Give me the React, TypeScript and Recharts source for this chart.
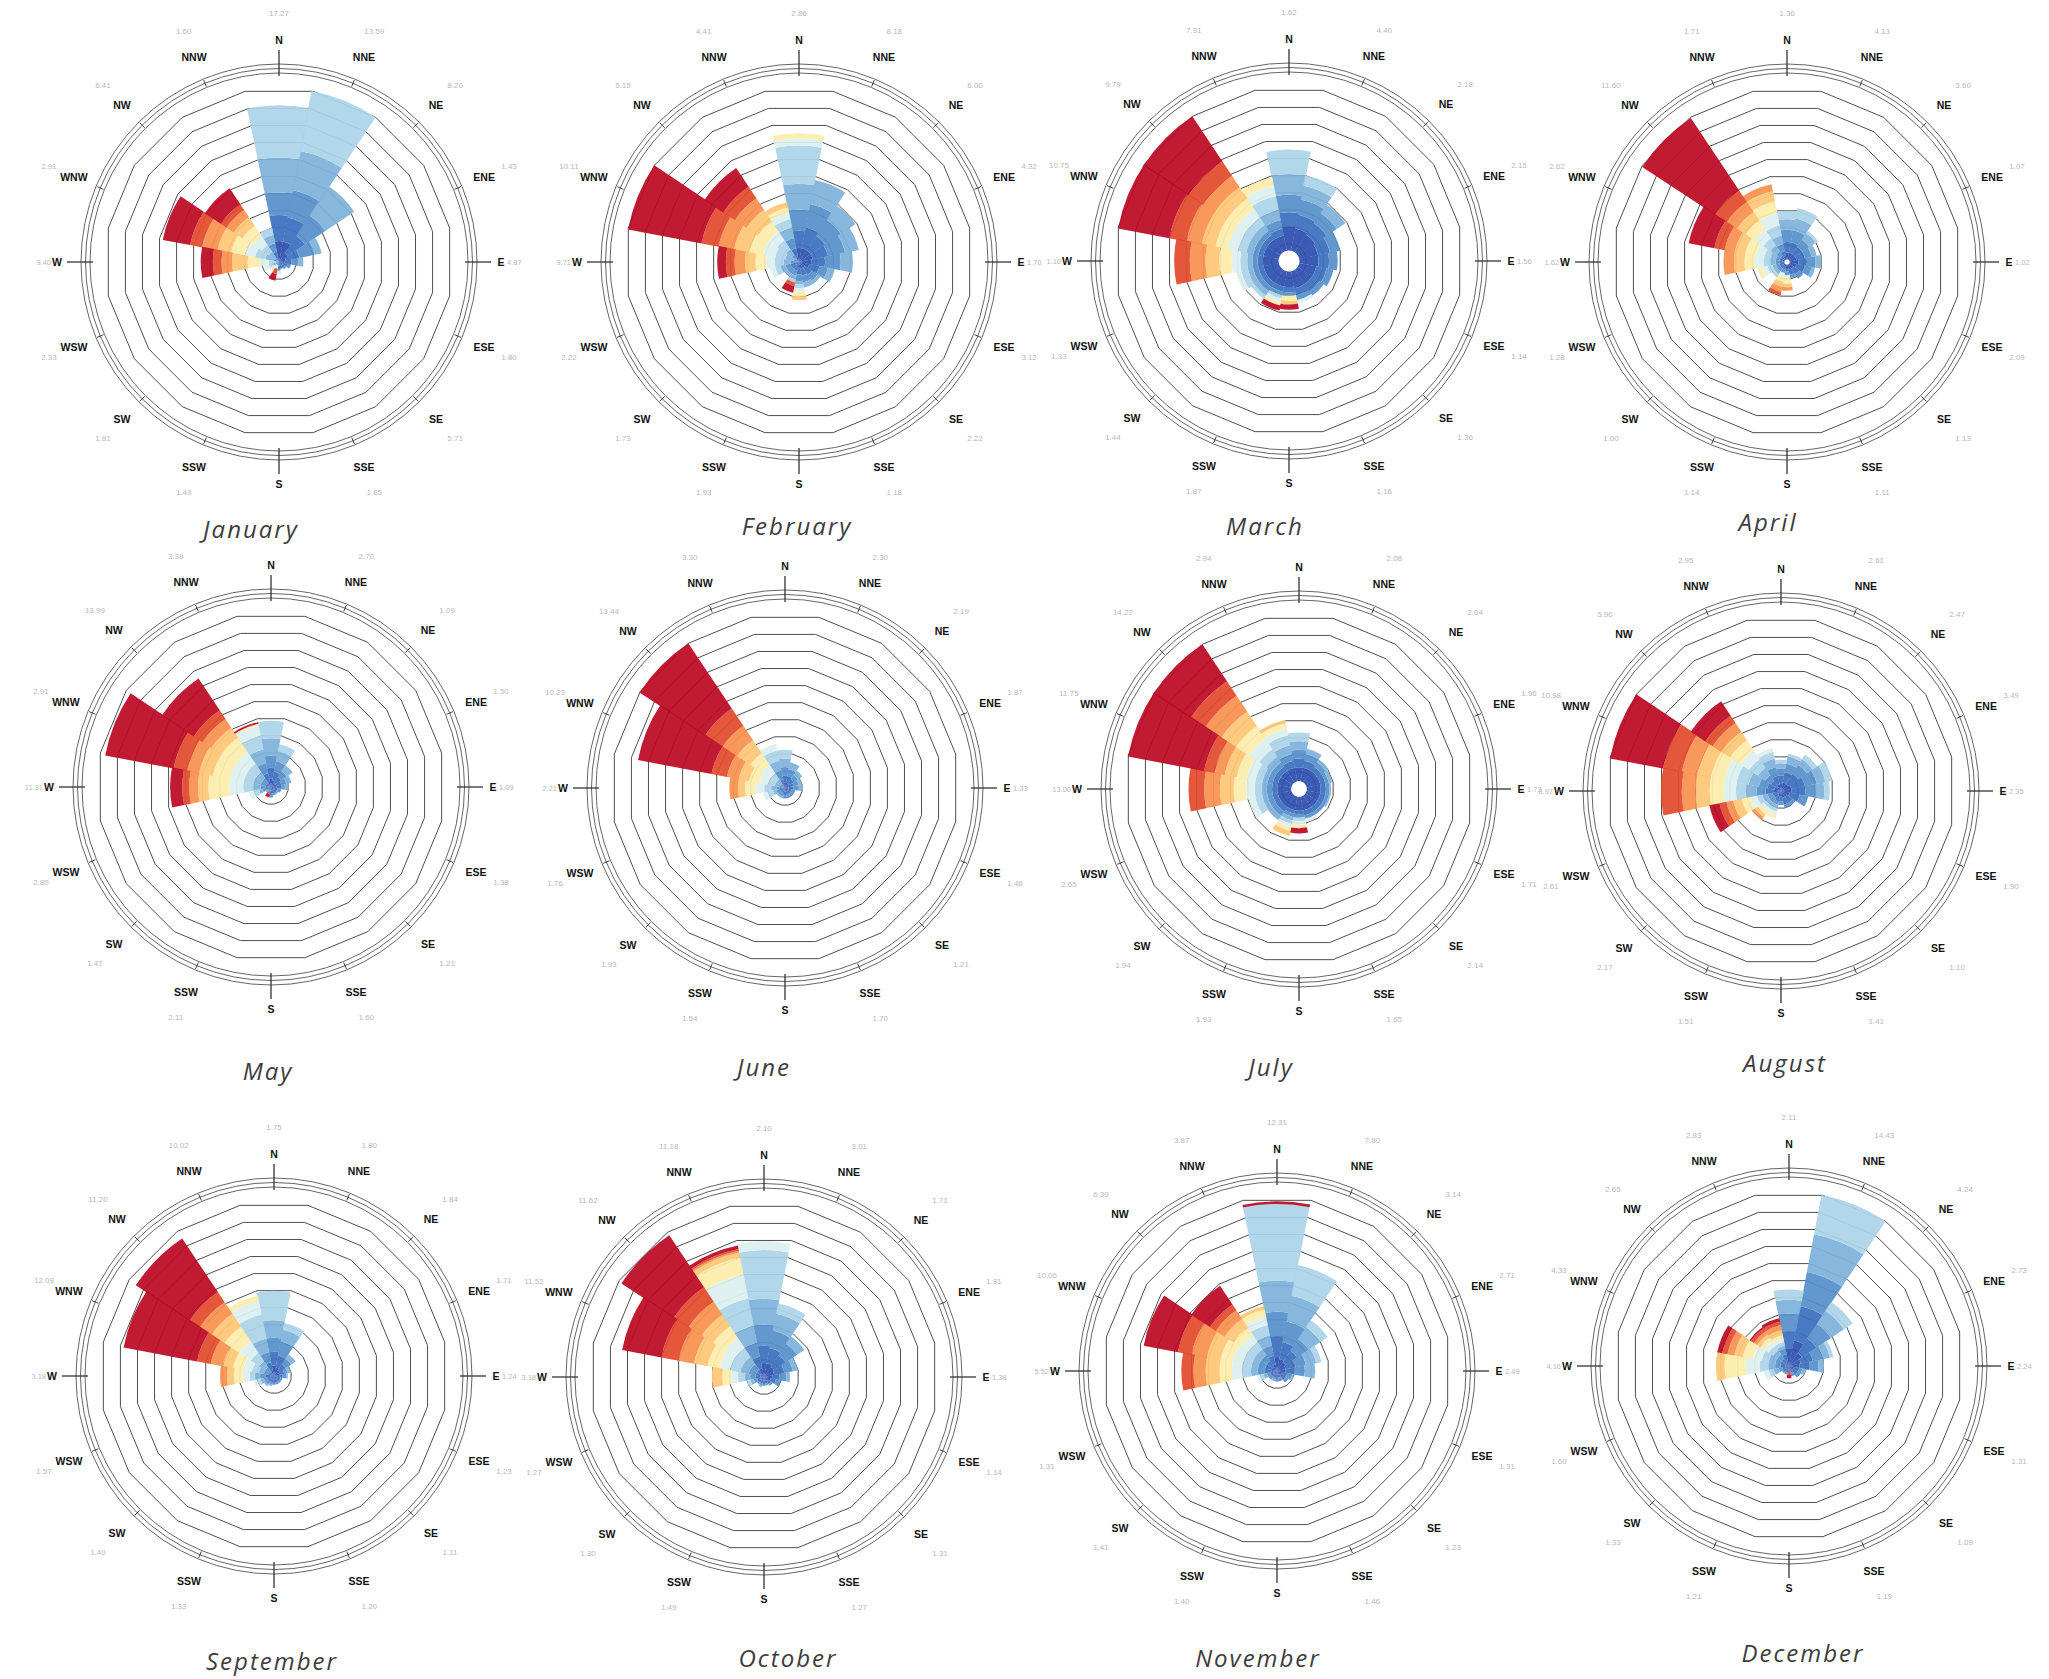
import React from 'react';
import { RadialBarChart, RadialBar, PolarGrid, PolarAngleAxis, PolarRadiusAxis } from 'recharts';

// 16 compass sectors, clockwise from north
const DIRS = ['N', 'NNE', 'NE', 'ENE', 'E', 'ESE', 'SE', 'SSE', 'S', 'SSW', 'SW', 'WSW', 'W', 'WNW', 'NW', 'NNW'];

// stacked bins, centre outwards (blue -> red)
const BIN_COLORS = [
  '#2c4fae', '#3c6fbe', '#5790ca', '#7fb2da', '#acd3e8', '#ddeff0',
  '#fcecaa', '#fdc675', '#f7904f', '#e24a2c', '#bb0a22',
];
const BIN_KEYS = BIN_COLORS.map((_, i) => `b${i}`);

// one row per direction (same order as DIRS), bin lengths in ring units
const january = [
  [1.2, 1.5, 1.3, 2.0, 3.0], [1.2, 1.4, 1.6, 2.3, 3.5], [0.6, 1.2, 1.4, 2.0], [0.4, 0.8, 0.9, 0.4],
  [0.3, 0.4, 0.4, 0.3], [0.2, 0.3, 0.2], [0.2, 0.2, 0.1], [0.2, 0.2],
  [0.2, 0.2, 0.1, 0, 0, 0.2], [0, 0.1, 0.1, 0, 0, 0.2, 0, 0, 0, 0.3, 0.4], [0, 0.1, 0.1, 0, 0.1, 0.2, 0.1], [0, 0.1, 0.1, 0.2, 0.2, 0.3],
  [0, 0, 0, 0.2, 0.4, 0.5, 0.7, 0.9, 0.6, 0.5, 0.7], [0, 0, 0.3, 0.5, 0.6, 0.6, 0.8, 0.8, 0.9, 0.7, 1.6], [0, 0, 0.3, 0.4, 0.5, 0.6, 0.7, 0.6, 0.5, 0.4, 1.1], [0.2, 0.4, 0.5, 0.5, 0.4],
];
const february = [
  [0.8, 1.0, 1.2, 1.5, 2.2, 0.4, 0.3], [0.8, 1.2, 1.4, 1.4], [0.8, 1.0, 1.1, 1.0], [0.8, 0.9, 1.0, 0.8],
  [0.7, 0.8, 0.9, 0.7], [0.6, 0.6, 0.5, 0.4], [0.4, 0.5, 0.4, 0.2], [0.4, 0.4, 0.4, 0.3],
  [0.3, 0.4, 0.4, 0.2, 0.2, 0.2, 0.3, 0.2], [0.2, 0.3, 0.3, 0.2, 0.2, 0, 0, 0, 0, 0.2, 0.4], [0.2, 0.3, 0.3, 0.2], [0.2, 0.3, 0.3, 0.3, 0.3, 0.3],
  [0, 0.2, 0.3, 0.4, 0.5, 0.5, 0.6, 0.6, 0.6, 0.5, 0.5], [0, 0, 0.3, 0.5, 0.6, 0.7, 0.8, 0.9, 0.9, 1.0, 4.4], [0, 0.2, 0.3, 0.4, 0.6, 0.6, 0.7, 0.8, 0.8, 0.8, 1.3], [0.3, 0.5, 0.6, 0.6, 0.5, 0.4, 0.3, 0.3],
];
const march = [
  [1.4, 0.8, 1.0, 1.2, 1.4], [1.3, 0.8, 0.9, 0.8, 0.6], [1.2, 0.8, 0.7, 0.6], [1.1, 0.7, 0.6],
  [1.1, 0.6, 0.5], [1.0, 0.6, 0.4], [1.0, 0.5, 0.3], [1.0, 0.4, 0.3, 0, 0, 0.2],
  [0.9, 0.3, 0.2, 0, 0, 0, 0.3, 0.2, 0, 0, 0.3], [0.9, 0.3, 0.2, 0, 0.2, 0.2, 0.2, 0, 0, 0, 0.3], [0.9, 0.3, 0.3, 0.3, 0.2], [0.9, 0.3, 0.3, 0.3, 0.4, 0.3],
  [0.9, 0.3, 0.3, 0.3, 0.4, 0.5, 0.7, 0.8, 0.9, 0.9], [0.9, 0.3, 0.3, 0.4, 0.5, 0.6, 0.7, 0.8, 0.9, 1.0, 3.5], [0.9, 0.3, 0.3, 0.4, 0.5, 0.6, 0.7, 0.8, 0.8, 1.0, 3.2], [0.9, 0.4, 0.5, 0.6, 0.8, 0.6, 0.5],
];
const april = [
  [0.4, 0.6, 0.7, 0.6, 0.5], [0.4, 0.6, 0.7, 0.7, 0.6], [0.4, 0.5, 0.5, 0.4, 0.2], [0.4, 0.5, 0.4, 0.3],
  [0.5, 0.5, 0.5, 0.3], [0.4, 0.5, 0.4, 0.2], [0.3, 0.4, 0.3], [0.3, 0.3, 0.2],
  [0.2, 0.2, 0.2, 0, 0, 0.2, 0.3, 0.2, 0.2], [0.1, 0.2, 0.2, 0, 0, 0.2, 0.3, 0.3, 0.3, 0.2], [0.1, 0.2, 0.2, 0.2, 0.2], [0.1, 0.2, 0.2, 0.2, 0.3, 0.3, 0.3],
  [0.1, 0.2, 0.2, 0.3, 0.4, 0.5, 0.6, 0.6, 0.6], [0.1, 0.2, 0.2, 0.3, 0.4, 0.5, 0.6, 0.6, 0.6, 0.6, 1.5], [0.1, 0.2, 0.3, 0.4, 0.5, 0.6, 0.6, 0.6, 0.7, 0.8, 5.0], [0.2, 0.3, 0.4, 0.5, 0.6, 0.7, 0.7, 0.6, 0.4],
];
const may = [
  [0.5, 0.6, 0.7, 1.0, 1.0], [0.4, 0.5, 0.6, 0.6, 0.4], [0.3, 0.4, 0.4, 0.4], [0.3, 0.3, 0.3, 0.3],
  [0.3, 0.3, 0.2, 0.2], [0.2, 0.2, 0.2], [0.2, 0.2, 0.1], [0.2, 0.2, 0.1],
  [0.2, 0.2, 0.2], [0.1, 0.1, 0.1, 0, 0, 0, 0, 0, 0, 0.1, 0.2], [0.1, 0.1, 0.1, 0.1], [0.1, 0.2, 0.2, 0.2, 0.3, 0.3],
  [0.1, 0.2, 0.3, 0.4, 0.6, 0.8, 1.2, 0.6, 0.5, 0.4, 0.7], [0.1, 0.2, 0.3, 0.4, 0.6, 0.8, 1.0, 0.8, 0.7, 0.8, 4.0], [0.1, 0.2, 0.3, 0.4, 0.6, 0.8, 1.0, 0.7, 0.6, 0.6, 2.2], [0.3, 0.5, 0.6, 0.8, 0.8, 0.6, 0.1, 0, 0, 0, 0.1],
];
const june = [
  [0.3, 0.4, 0.5, 0.5, 0.5], [0.3, 0.4, 0.4, 0.4], [0.3, 0.3, 0.3, 0.3], [0.2, 0.3, 0.3, 0.2],
  [0.2, 0.3, 0.3, 0.2], [0.2, 0.2, 0.2], [0.2, 0.2, 0.2], [0.2, 0.2, 0.2],
  [0.2, 0.2, 0.2], [0.1, 0.2, 0.2, 0.1], [0.1, 0.2, 0.2, 0.1], [0.1, 0.2, 0.2, 0.2, 0.3, 0.3],
  [0.1, 0.2, 0.2, 0.3, 0.4, 0.5, 0.6, 0.4, 0.5], [0, 0.1, 0.2, 0.3, 0.4, 0.5, 0.6, 0.6, 0.7, 0.9, 4.3], [0, 0.1, 0.2, 0.3, 0.4, 0.6, 0.8, 0.9, 1.0, 1.2, 4.5], [0.2, 0.3, 0.5, 0.6, 0.6, 0.4],
];
const july = [
  [0.8, 0.5, 0.5, 0.5, 0.5], [0.8, 0.4, 0.4, 0.3], [0.8, 0.3, 0.3, 0.2], [0.8, 0.3, 0.2, 0.2],
  [0.8, 0.3, 0.2, 0.1], [0.8, 0.3, 0.2, 0.1], [0.8, 0.3, 0.2], [0.8, 0.3, 0.2, 0, 0, 0.2],
  [0.8, 0.2, 0.2, 0, 0.2, 0.2, 0.2, 0, 0, 0, 0.3], [0.8, 0.2, 0.2, 0.2, 0.2, 0.2, 0.2, 0.3], [0.8, 0.3, 0.3, 0.3], [0.8, 0.3, 0.3, 0.3, 0.4, 0.4],
  [0.8, 0.3, 0.3, 0.3, 0.4, 0.5, 0.7, 0.8, 0.9, 0.9], [0.8, 0.3, 0.3, 0.3, 0.4, 0.5, 0.6, 0.7, 0.6, 0.6, 4.6], [0.8, 0.3, 0.3, 0.4, 0.5, 0.7, 0.9, 1.0, 1.1, 1.0, 3.2], [0.8, 0.4, 0.4, 0.5, 0.6, 0.4, 0.3, 0.2],
];
const august = [
  [0.4, 0.5, 0.4, 0.3, 0.2], [0.5, 0.6, 0.5, 0.4, 0.2], [0.5, 0.7, 0.6, 0.4, 0.3], [0.6, 0.8, 0.7, 0.5, 0.4],
  [0.6, 0.8, 0.6, 0.5, 0.3], [0.5, 0.6, 0.5], [0.4, 0.4, 0.2], [0.4, 0.4, 0.2],
  [0.3, 0.3, 0.2], [0.3, 0.3, 0.2, 0.2, 0.2, 0.2, 0.2], [0.2, 0.3, 0.3, 0.2, 0.2, 0.2, 0.2, 0.2, 0.2], [0.2, 0.3, 0.3, 0.3, 0.3, 0.4, 0.5, 0.5, 0.4, 0.4, 0.6],
  [0.4, 0.5, 0.5, 0.6, 0.6, 0.7, 0.8, 0.8, 0.8, 1.2], [0.4, 0.4, 0.5, 0.6, 0.7, 0.7, 0.8, 0.8, 0.9, 1.1, 3.3], [0.3, 0.4, 0.4, 0.5, 0.6, 0.6, 0.7, 0.6, 0.6, 0.5, 1.0], [0.4, 0.5, 0.5, 0.5, 0.4, 0.2],
];
const september = [
  [0.6, 0.8, 0.8, 1.0, 1.7], [0.5, 0.7, 0.8, 0.7, 0.4], [0.4, 0.4, 0.4, 0.3], [0.3, 0.3, 0.2, 0.2],
  [0.3, 0.2, 0.2, 0.1], [0.2, 0.2, 0.1], [0.2, 0.2, 0.1], [0.2, 0.2, 0.1],
  [0.2, 0.2, 0.1], [0.2, 0.2, 0.1, 0.1], [0.2, 0.2, 0.2, 0.1], [0.2, 0.2, 0.2, 0.2, 0.2, 0.2],
  [0.2, 0.3, 0.3, 0.3, 0.3, 0.4, 0.5, 0.4, 0.4], [0.1, 0.2, 0.3, 0.3, 0.4, 0.5, 0.6, 0.6, 0.7, 0.8, 4.3], [0.1, 0.2, 0.3, 0.4, 0.6, 0.8, 1.0, 0.9, 0.8, 0.7, 3.7], [0.3, 0.5, 0.6, 0.8, 1.4, 0.8, 0.3],
];
const october = [
  [0.8, 1.0, 1.2, 1.5, 2.8, 0.5], [0.8, 0.9, 1.0, 1.0, 0.6], [0.7, 0.8, 0.8, 0.5], [0.6, 0.6, 0.5, 0.3],
  [0.5, 0.4, 0.4, 0.2], [0.4, 0.3, 0.3], [0.3, 0.2, 0.1], [0.2, 0.2, 0.1],
  [0.2, 0.2, 0.1], [0.2, 0.2, 0.1, 0.1], [0.2, 0.2, 0.1], [0.2, 0.2, 0.2, 0.2, 0.2],
  [0.2, 0.3, 0.3, 0.3, 0.4, 0.4, 0.5, 0.6], [0.2, 0.3, 0.4, 0.5, 0.6, 0.6, 0.7, 0.8, 0.9, 1.0, 2.3], [0.2, 0.3, 0.4, 0.5, 0.6, 0.7, 0.8, 0.8, 0.9, 1.0, 3.6], [0.5, 0.7, 0.8, 1.0, 1.6, 1.4, 1.0, 0.3, 0.1, 0.1, 0.2],
];
const november = [
  [0.8, 1.2, 1.4, 1.8, 4.4, 0, 0, 0, 0, 0, 0.15], [0.7, 1.0, 1.2, 1.5, 1.8], [0.6, 0.8, 0.8, 0.8, 0.5], [0.5, 0.6, 0.6, 0.6, 0.3],
  [0.5, 0.5, 0.6, 0.6], [0.3, 0.3, 0.3, 0.1], [0.3, 0.3, 0.2], [0.2, 0.2, 0.2],
  [0.2, 0.2, 0.2], [0.2, 0.2, 0.1, 0.1], [0.2, 0.2, 0.2], [0.2, 0.2, 0.2, 0.2, 0.2, 0.2],
  [0.3, 0.4, 0.4, 0.4, 0.5, 0.6, 0.7, 0.8, 0.7, 0.7], [0.3, 0.4, 0.4, 0.4, 0.5, 0.6, 0.7, 0.8, 0.9, 0.8, 2.0], [0.3, 0.4, 0.4, 0.4, 0.5, 0.5, 0.5, 0.6, 0.6, 0.4, 1.3], [0.4, 0.5, 0.6, 0.6, 0.6, 0.5, 0.4, 0.2],
];
const december = [
  [1.0, 1.0, 1.0, 0.8, 0.6], [1.5, 2.0, 2.0, 2.2, 2.4], [0.9, 1.0, 1.0, 0.9, 0.6], [0.7, 0.7, 0.6, 0.4, 0.2],
  [0.6, 0.6, 0.5, 0.3], [0.3, 0.3, 0.2, 0.2], [0.3, 0.3, 0.2], [0.2, 0.2, 0.2],
  [0.2, 0.1, 0, 0, 0, 0, 0, 0, 0, 0.2, 0.2], [0.2, 0.2, 0.1], [0.2, 0.2, 0.1], [0.2, 0.2, 0.2, 0.3, 0.3, 0.3],
  [0.2, 0.3, 0.3, 0.4, 0.5, 0.8, 1.2, 0.5], [0.2, 0.3, 0.3, 0.4, 0.4, 0.5, 0.6, 0.5, 0.4, 0.3, 0.3], [0.2, 0.3, 0.3, 0.3, 0.3, 0.3, 0.3, 0.2, 0.2, 0.2, 0.1], [0.3, 0.4, 0.3, 0.2, 0.2, 0.2, 0.2, 0.3, 0.3, 0.2, 0.2],
];

// empty core at the centre of some roses (ring units), per month
const CORE_HOLE = [0, 0, 0.6, 0.15, 0, 0, 0.45, 0, 0, 0, 0, 0];

// small grey per-direction figures printed outside each rose ('' = none shown)
const janPct = ['17.27', '13.59', '8.20', '1.43', '4.87', '1.80', '5.71', '1.85', '', '1.43', '1.81', '2.33', '9.40', '2.91', '6.41', '1.60'];
const febPct = ['2.86', '8.18', '6.00', '4.32', '1.70', '3.12', '2.22', '1.18', '', '1.93', '1.73', '2.22', '9.71', '10.11', '5.15', '4.41'];
const marPct = ['1.62', '4.40', '2.18', '2.15', '1.56', '1.14', '1.36', '1.16', '', '1.87', '1.44', '1.33', '1.10', '10.75', '9.79', '7.31'];
const aprPct = ['1.36', '4.13', '3.60', '1.07', '1.02', '2.09', '1.13', '1.11', '', '1.14', '1.00', '1.28', '1.62', '2.62', '11.60', '1.71'];
const mayPct = ['', '2.70', '1.09', '1.50', '1.09', '1.38', '1.21', '1.60', '', '2.11', '1.47', '2.80', '11.31', '2.91', '13.99', '3.38'];
const junPct = ['', '2.30', '2.19', '1.87', '1.33', '1.46', '1.21', '1.70', '', '1.54', '1.93', '1.76', '2.21', '10.23', '13.44', '3.30'];
const julPct = ['', '2.08', '2.04', '1.96', '1.73', '1.71', '2.14', '1.65', '', '1.93', '1.94', '2.65', '13.00', '11.75', '14.22', '2.94'];
const augPct = ['', '2.61', '2.47', '3.49', '2.35', '1.90', '1.10', '1.41', '', '1.51', '2.17', '2.61', '6.97', '10.98', '5.96', '2.95'];
const sepPct = ['1.75', '1.80', '1.84', '1.71', '1.24', '1.23', '1.11', '1.20', '', '1.33', '1.40', '1.57', '3.18', '12.09', '11.20', '10.02'];
const octPct = ['2.10', '3.01', '1.71', '1.81', '1.38', '1.14', '1.31', '1.27', '', '1.49', '1.30', '1.27', '3.18', '11.52', '11.62', '11.18'];
const novPct = ['12.31', '7.80', '3.14', '2.71', '2.49', '1.31', '1.23', '1.46', '', '1.40', '1.41', '1.31', '5.52', '10.06', '6.39', '3.87'];
const decPct = ['2.11', '14.43', '4.24', '2.73', '2.24', '1.31', '1.09', '1.19', '', '1.21', '1.33', '1.60', '4.16', '4.33', '2.65', '2.83'];

const MONTH_NAMES = ['January', 'February', 'March', 'April', 'May', 'June', 'July', 'August', 'September', 'October', 'November', 'December'];
const ROSES = [january, february, march, april, may, june, july, august, september, october, november, december];
const PCTS = [janPct, febPct, marPct, aprPct, mayPct, junPct, julPct, augPct, sepPct, octPct, novPct, decPct];

// layout: rose centres and caption centres on the page
const ROSE_POS = [
  [279, 262], [799, 262], [1289, 261], [1787, 262],
  [271, 787], [785, 788], [1299, 789], [1781, 791],
  [274, 1376], [764, 1377], [1277, 1371], [1789, 1366],
];
const CAPTION_POS = [
  [251, 528], [797, 525], [1265, 525], [1768, 521],
  [268, 1070], [764, 1066], [1271, 1066], [1785, 1062],
  [272, 1660], [788, 1657], [1258, 1657], [1803, 1652],
];

const SIZE = 560;
const C = SIZE / 2;
const R_OUT = 174;
const STEP = 360 / DIRS.length;
const gridAngles = DIRS.map((_, i) => 90 + STEP / 2 - i * STEP);
const FONT = "'Liberation Sans', Arial, sans-serif";

function WindRose({ rose, pct, hole }: { rose: number[][]; pct: string[]; hole: number }) {
  const rows = DIRS.map((dir, i) => {
    const row: Record<string, string | number> = { dir, hole };
    BIN_KEYS.forEach((k, j) => {
      row[k] = rose[i][j] ?? 0;
    });
    return row;
  });

  const renderTick = (props: any) => {
    const i = props.index;
    const a = ((90 - i * STEP) * Math.PI) / 180;
    const px = (r: number) => C + r * Math.cos(a);
    const py = (r: number) => C - r * Math.sin(a);
    const cardinal = i % 4 === 0;
    const side = i === 4 || i === 12;
    const t1 = cardinal ? 186 : 190;
    const t2 = cardinal ? 212 : 197;
    const nr = side ? 228 : 249;
    return (
      <g>
        <line x1={px(t1)} y1={py(t1)} x2={px(t2)} y2={py(t2)} stroke="#333" strokeWidth={cardinal ? 1.3 : 0.9} />
        <text x={px(222)} y={py(222)} textAnchor="middle" dominantBaseline="central" fontSize={10.5} fontWeight="bold" fill="#111" fontFamily={FONT}>
          {DIRS[i]}
        </text>
        {pct[i] ? (
          <text
            x={px(nr)}
            y={py(nr)}
            textAnchor={side ? (i === 4 ? 'start' : 'end') : 'middle'}
            dominantBaseline="central"
            fontSize={side ? 7.5 : 8}
            fill="#b8b8b8"
            fontFamily={FONT}
          >
            {pct[i]}
          </text>
        ) : null}
      </g>
    );
  };

  return (
    <RadialBarChart
      width={SIZE}
      height={SIZE}
      cx={C}
      cy={C}
      data={rows}
      layout="centric"
      innerRadius={0}
      outerRadius={R_OUT}
      startAngle={90 - STEP / 2}
      endAngle={90 - STEP / 2 - 360}
      barCategoryGap={0}
      barGap={0}
      margin={{ top: 0, right: 0, bottom: 0, left: 0 }}
    >
      <PolarGrid gridType="polygon" polarAngles={gridAngles} radialLines={false} stroke="#3a3a3a" strokeWidth={0.9} />
      <PolarGrid gridType="circle" polarRadius={[189, 193.5, 198]} radialLines={false} stroke="#555" strokeWidth={0.9} />
      <PolarRadiusAxis type="number" domain={[0, 10]} tickCount={11} allowDataOverflow tick={false} axisLine={false} />
      <PolarAngleAxis type="category" dataKey="dir" tick={renderTick} tickLine={false} axisLine={false} />
      <RadialBar dataKey="hole" stackId="rose" fill="#ffffff" fillOpacity={0} stroke="none" isAnimationActive={false} />
      {BIN_KEYS.map((k, j) => (
        <RadialBar key={k} dataKey={k} stackId="rose" fill={BIN_COLORS[j]} fillOpacity={0.93} stroke="none" isAnimationActive={false} />
      ))}
    </RadialBarChart>
  );
}

export default function App() {
  return (
    <div style={{ position: 'absolute', left: 0, top: 0, width: 2049, height: 1679, background: '#fff', overflow: 'hidden' }}>
      {MONTH_NAMES.map((name, m) => (
        <div key={name}>
          <div style={{ position: 'absolute', left: ROSE_POS[m][0] - C, top: ROSE_POS[m][1] - C, width: SIZE, height: SIZE }}>
            <WindRose rose={ROSES[m]} pct={PCTS[m]} hole={CORE_HOLE[m]} />
          </div>
          <div
            style={{
              position: 'absolute',
              left: CAPTION_POS[m][0],
              top: CAPTION_POS[m][1],
              transform: 'translate(-50%, -50%)',
              fontFamily: "'Open Sans', sans-serif",
              fontStyle: 'italic',
              fontSize: 24,
              letterSpacing: 2,
              color: '#3d3d3d',
              whiteSpace: 'nowrap',
            }}
          >
            {name}
          </div>
        </div>
      ))}
    </div>
  );
}
